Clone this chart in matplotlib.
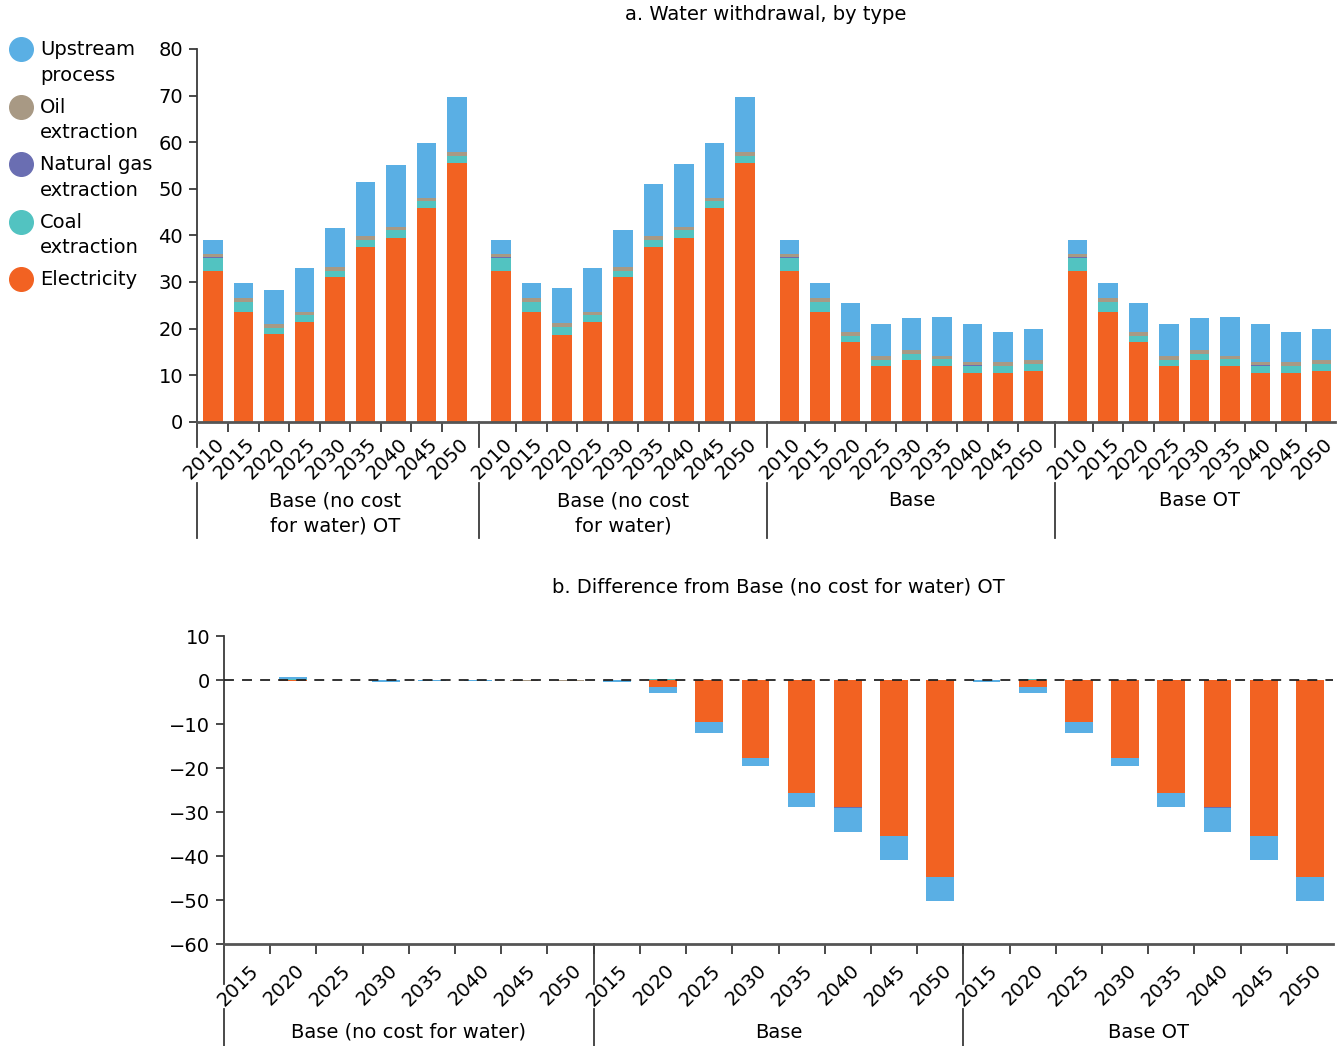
import numpy as np
import matplotlib
matplotlib.use("Agg")
import matplotlib.pyplot as plt
from matplotlib.lines import Line2D

plt.rcParams['font.family'] = 'DejaVu Sans'
plt.rcParams['font.size'] = 14

W, H = 1343, 1046

years = [2010, 2015, 2020, 2025, 2030, 2035, 2040, 2045, 2050]
scenarios = ["Base (no cost\nfor water) OT", "Base (no cost\nfor water)", "Base", "Base OT"]

# panel a: withdrawal by type, 9 years per scenario block
electricity = [32.3, 23.5, 18.8, 21.4, 31.0, 37.4, 39.4, 45.8, 55.6,
               32.3, 23.5, 18.6, 21.4, 31.0, 37.4, 39.4, 45.8, 55.6,
               32.3, 23.5, 17.1, 11.9, 13.2, 11.9, 10.4, 10.4, 10.9,
               32.3, 23.5, 17.1, 11.9, 13.2, 11.9, 10.4, 10.4, 10.9]
coal = [2.8, 2.1, 1.3, 1.4, 1.3, 1.5, 1.7, 1.5, 1.5,
        2.8, 2.1, 1.7, 1.4, 1.3, 1.5, 1.7, 1.5, 1.5,
        2.8, 2.1, 1.3, 1.3, 1.4, 1.5, 1.6, 1.6, 1.5,
        2.8, 2.1, 1.3, 1.3, 1.4, 1.5, 1.6, 1.6, 1.5]
natural_gas = [0.2, 0, 0, 0, 0, 0, 0, 0, 0,
               0.2, 0, 0, 0, 0, 0, 0, 0, 0,
               0.2, 0, 0, 0, 0, 0, 0.2, 0, 0,
               0.2, 0, 0, 0, 0, 0, 0.2, 0, 0]
oil = [0.8, 1.0, 0.9, 0.8, 0.8, 1.0, 0.6, 0.8, 0.8,
       0.8, 1.0, 0.8, 0.8, 0.8, 1.0, 0.6, 0.8, 0.8,
       0.8, 1.0, 0.9, 0.9, 0.8, 0.7, 0.7, 0.9, 0.9,
       0.8, 1.0, 0.9, 0.9, 0.8, 0.7, 0.7, 0.9, 0.9]
upstream = [3.0, 3.1, 7.2, 9.3, 8.4, 11.5, 13.5, 11.8, 11.7,
            3.0, 3.1, 7.5, 9.3, 8.0, 11.2, 13.7, 11.8, 11.9,
            3.0, 3.1, 6.1, 6.8, 6.8, 8.3, 8.0, 6.3, 6.6,
            3.0, 3.1, 6.1, 6.8, 6.8, 8.3, 8.0, 6.3, 6.6]

# panel b: difference from Base (no cost for water) OT, 8 years per block
diff_years = [2015, 2020, 2025, 2030, 2035, 2040, 2045, 2050]
diff_scenarios = ["Base (no cost for water)", "Base", "Base OT"]
d_electricity = [0, -0.2, 0, 0, 0, 0, 0, 0,
                 -0.1, -1.6, -9.5, -17.7, -25.7, -28.9, -35.4, -44.8,
                 -0.1, -1.6, -9.5, -17.7, -25.7, -28.9, -35.4, -44.8]
d_coal = [0, 0.3, 0, 0, 0, 0, 0, 0,
          0, 0.2, 0, 0, 0, 0, 0, 0,
          0, 0.2, 0, 0, 0, 0, 0, 0]
d_natural_gas = [0, 0, 0, 0, 0, 0, 0, 0,
                 0, 0, 0, 0, 0, -0.2, 0, 0,
                 0, 0, 0, 0, 0, -0.2, 0, 0]
d_oil = [0, 0, 0, 0, 0, 0, -0.2, -0.2,
         0, 0, 0, 0, 0, 0, 0, 0,
         0, 0, 0, 0, 0, 0, 0, 0]
d_upstream = [0, 0.3, 0, -0.5, -0.3, -0.3, 0, 0,
              -0.3, -1.3, -2.5, -1.8, -3.2, -5.5, -5.4, -5.4,
              -0.3, -1.3, -2.5, -1.8, -3.2, -5.5, -5.4, -5.4]

names = ["Upstream\nprocess", "Oil\nextraction", "Natural gas\nextraction",
         "Coal\nextraction", "Electricity"]
colors = {"Electricity": "#f26222", "Coal": "#52c3c1", "Natural gas": "#6a6eb2",
          "Oil": "#a89984", "Upstream": "#5aafe4"}
axis_col = "#3a3a3a"


def stack(ax, x, layers, width):
    pos = np.zeros(len(x))
    neg = np.zeros(len(x))
    for vals, col in layers:
        v = np.asarray(vals, dtype=float)
        base = np.where(v >= 0, pos, neg)
        ax.bar(x, v, width, bottom=base, color=col, linewidth=0, zorder=2)
        pos += np.clip(v, 0, None)
        neg += np.clip(v, None, 0)


def px(x, y):
    return x / W, 1 - y / H


fig = plt.figure(figsize=(W / 100, H / 100), dpi=100)

# ---- panel a ----
gap = 9.45
xa = np.array([g * gap + i for g in range(4) for i in range(9)])
ax1 = fig.add_axes([197 / W, 1 - 421.7 / H, 1138 / W, 372.7 / H])
stack(ax1, xa, [(electricity, colors["Electricity"]), (coal, colors["Coal"]),
                (natural_gas, colors["Natural gas"]), (oil, colors["Oil"]),
                (upstream, colors["Upstream"])], 0.64)
ax1.set_xlim(-0.52, 3 * gap + 8 + 0.44)
ax1.set_ylim(0, 80)
ax1.set_yticks(range(0, 81, 10))
ax1.set_title("a. Water withdrawal, by type", fontsize=14, pad=21)

bounds_a = [g * gap + i + 0.5 for g in range(4) for i in range(8)]
ax1.set_xticks(bounds_a)
ax1.set_xticklabels([])
seps_a = [-0.52] + [g * gap - 0.725 for g in range(1, 4)]

for x, yr in zip(xa, years * 4):
    ax1.annotate(str(yr), (x, 0), xycoords=('data', 'axes fraction'),
                 xytext=(6, -14), textcoords='offset points',
                 rotation=45, ha='right', va='center', rotation_mode='anchor',
                 fontsize=14)
for g, name in enumerate(scenarios):
    ax1.text(g * gap + 4, -0.186, name, transform=ax1.get_xaxis_transform(),
             ha='center', va='top', fontsize=14, linespacing=1.45)
for s in seps_a:
    ax1.plot([s, s], [0, -0.068], transform=ax1.get_xaxis_transform(),
             color=axis_col, lw=1.3, clip_on=False)
    ax1.plot([s, s], [-0.165, -0.313], transform=ax1.get_xaxis_transform(),
             color=axis_col, lw=1.3, clip_on=False)

# ---- panel b ----
xb = np.arange(24)
ax2 = fig.add_axes([224 / W, 1 - 944 / H, 1109 / W, 308 / H])
stack(ax2, xb, [(d_electricity, colors["Electricity"]), (d_coal, colors["Coal"]),
                (d_natural_gas, colors["Natural gas"]), (d_oil, colors["Oil"]),
                (d_upstream, colors["Upstream"])], 0.6)
ax2.axhline(0, color="#222222", lw=1.3, ls=(0, (5.5, 4.5)), zorder=3)
ax2.set_xlim(-0.5, 23.5)
ax2.set_ylim(-60, 10)
ax2.set_yticks(range(-60, 11, 10))
ax2.set_title("b. Difference from Base (no cost for water) OT", fontsize=14, pad=31)
ax2.set_xticks([i + 0.5 for i in range(23)])
ax2.set_xticklabels([])

for x, yr in zip(xb, diff_years * 3):
    ax2.annotate(str(yr), (x, 0), xycoords=('data', 'axes fraction'),
                 xytext=(6, -17), textcoords='offset points',
                 rotation=45, ha='right', va='center', rotation_mode='anchor',
                 fontsize=14)
for g, name in enumerate(diff_scenarios):
    ax2.text(g * 8 + 3.5, -0.286, name, transform=ax2.get_xaxis_transform(),
             ha='center', va='center', fontsize=14)
for s in [-0.5, 7.5, 15.5]:
    ax2.plot([s, s], [0, -0.13], transform=ax2.get_xaxis_transform(),
             color=axis_col, lw=1.3, clip_on=False)
    ax2.plot([s, s], [-0.21, -0.33], transform=ax2.get_xaxis_transform(),
             color=axis_col, lw=1.3, clip_on=False)

for ax in (ax1, ax2):
    for side in ("top", "right"):
        ax.spines[side].set_visible(False)
    ax.spines["left"].set_color(axis_col)
    ax.spines["bottom"].set_color("#555555")
    ax.spines["left"].set_linewidth(1.3)
    ax.spines["bottom"].set_linewidth(2)
    ax.tick_params(axis='y', direction='out', length=6, width=1.3,
                   color=axis_col, labelsize=14, pad=4)
    ax.tick_params(axis='x', direction='out', length=7, width=1.3,
                   color=axis_col)

# legend with round swatches
legend_keys = ["Upstream", "Oil", "Natural gas", "Coal", "Electricity"]
for k, (key, label) in enumerate(zip(legend_keys, names)):
    cy = 49 + k * 57.5
    fig.add_artist(Line2D([21 / W], [1 - cy / H], marker='o', markersize=17,
                          color=colors[key], linestyle='none',
                          transform=fig.transFigure))
    fx, fy = px(40, cy - 9)
    fig.text(fx, fy, label, ha='left', va='top', fontsize=14, linespacing=1.45)

fig.savefig("out.png", dpi=100)
